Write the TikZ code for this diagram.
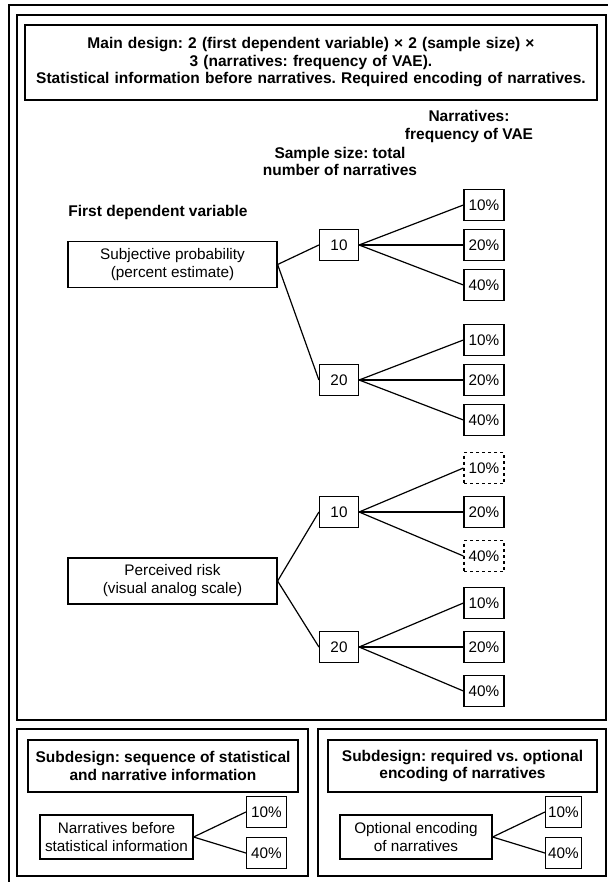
\documentclass[tikz,border=0pt]{standalone}
\usepackage{fontspec}
\setmainfont{Liberation Sans}
\usepackage{tikz}
\usepackage{tkz-euclide}
\frenchspacing

\begin{document}
\begin{tikzpicture}[x=1pt, y=-1pt, line width=1.2pt,
  box/.style={draw, align=center, inner sep=0pt, font=\fontsize{15.3}{18}\selectfont},
  head/.style={align=center, font=\fontsize{15.5}{17.5}\selectfont\bfseries},
  leaf/.style={box, minimum width=40pt, minimum height=31pt},
  size/.style={box, minimum width=39pt, minimum height=31pt},
  dv/.style={box, minimum width=209pt, minimum height=46pt}]

\useasboundingbox (0,0) rectangle (608,882);

%% 外框
\draw (9,882) -- (9,5) -- (608,5);
\draw (17,15) rectangle (606,720);
\draw (17,729) rectangle (308,876);
\draw (318,729) rectangle (606,876);

% 定义多个点(x/y/<name>): 单位为 pt, y 轴向下
\tkzDefPoints{311/62.5/T, 469/126.5/LN, 340/161.5/LS, 158/212/LF}
\tkzDefPoints{172.5/264.5/SP, 339/245/A, 339/380/B, 172.5/581/PR, 339/512/C, 339/647/D}
\tkzDefPoints{163/766/U, 462.5/766/V, 116.5/837/E, 416/837/F}
\tkzDefPoints{266.5/812/E1, 266.5/853/E3, 563.5/812/F1, 563.5/853/F3}

%% 标题与各层说明
\node[box, head, text width=560pt, inner xsep=6pt, minimum height=75pt] (title) at (T)
  {Main design: 2 (first dependent variable) × 2 (sample size) ×\\
   3 (narratives: frequency of VAE).\\
   Statistical information before narratives. Required encoding of narratives.};
\node[head] (narr) at (LN) {Narratives:\\frequency of VAE};
\node[head] (samp) at (LS) {Sample size: total\\number of narratives};
\node[head] (first) at (LF) {First dependent variable};

%% 第一层, 第二层
\node[dv] (subj) at (SP) {Subjective probability\\(percent estimate)};
\node[dv] (risk) at (PR) {Perceived risk\\(visual analog scale)};
\node[size] (n10a) at (A) {10};
\node[size] (n20a) at (B) {20};
\node[size] (n10b) at (C) {10};
\node[size] (n20b) at (D) {20};

\draw (subj.east) -- (n10a.west);
\draw (subj.east) -- (n20a.west);
\draw (risk.east) -- (n10b.west);
\draw (risk.east) -- (n20b.west);

%% 第三层: 10% / 20% / 40%, 可选的用虚线
\foreach \g/\d/\sa/\sc in {n10a/40/solid/solid, n20a/40/solid/solid,
                           n10b/44/dashed/dashed, n20b/44/solid/solid}{
  \node[leaf, \sa] (\g1) at ([shift={(145,-\d)}]\g) {10\%};
  \node[leaf] (\g2) at ([shift={(145,0)}]\g) {20\%};
  \node[leaf, \sc] (\g3) at ([shift={(145,\d)}]\g) {40\%};
  \foreach \k in {1,2,3}
    \draw (\g.east) -- (\g\k.west);
}

%% 子设计
\node[box, head, minimum width=270pt, minimum height=52pt] (seqt) at (U)
  {Subdesign: sequence of statistical\\and narrative information};
\node[box, head, minimum width=269pt, minimum height=52pt] (enct) at (V)
  {Subdesign: required vs. optional\\encoding of narratives};
\node[box, minimum width=153pt, minimum height=44pt] (seq) at (E)
  {Narratives before\\statistical information};
\node[box, minimum width=152pt, minimum height=44pt] (opt) at (F)
  {Optional encoding\\of narratives};
\node[leaf] (seq1) at (E1) {10\%};
\node[leaf] (seq3) at (E3) {40\%};
\node[leaf, minimum width=36pt] (opt1) at (F1) {10\%};
\node[leaf, minimum width=36pt] (opt3) at (F3) {40\%};

\draw (seq.east) -- (seq1.west);
\draw (seq.east) -- (seq3.west);
\draw (opt.east) -- (opt1.west);
\draw (opt.east) -- (opt3.west);

\end{tikzpicture}
\end{document}
